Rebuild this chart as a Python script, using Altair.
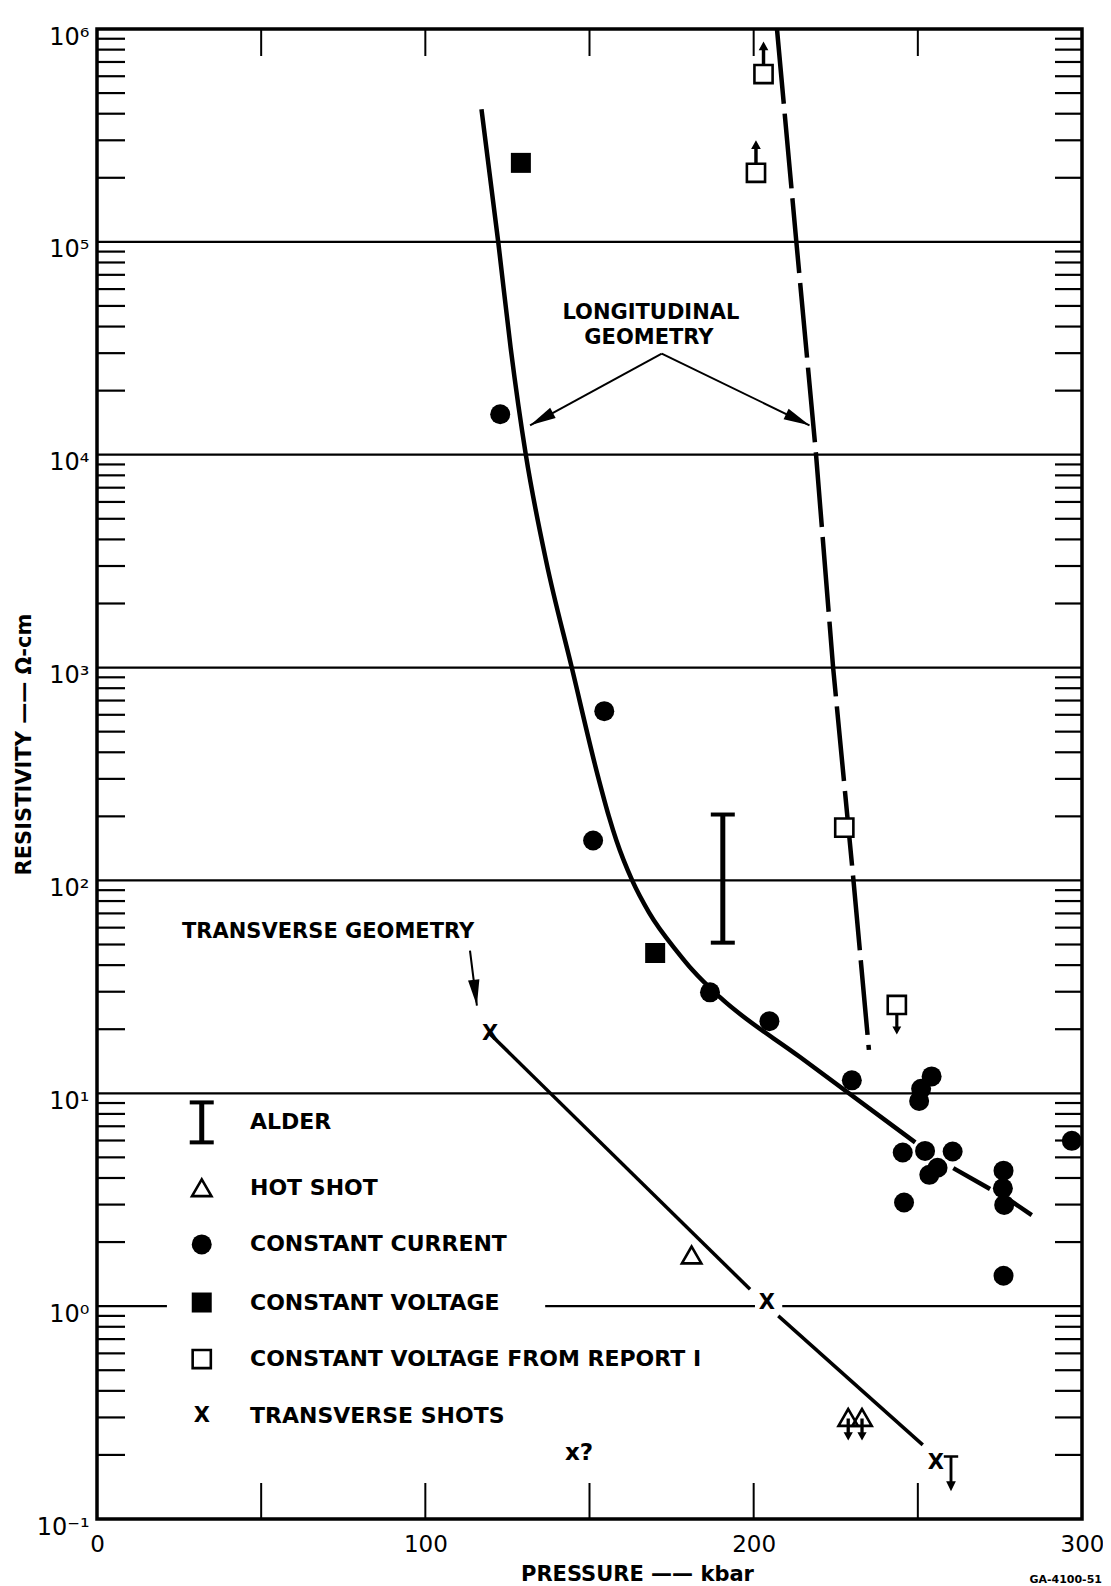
import altair as alt
import pandas as pd

W, H = 985, 1490
FONT = "DejaVu Sans"

# ---------------- data ----------------
# constant current (filled circles)
cc_p = [122.8, 154.5, 151.1, 186.7, 204.8, 229.9, 254.2, 251.0, 250.4, 245.4,
        252.2, 260.6, 256.0, 253.5, 245.8, 276.1, 275.9, 276.3, 276.1, 296.9]
cc_r = [15500, 624, 154, 29.8, 21.8, 11.5, 12.0, 10.5, 9.2, 5.27,
        5.36, 5.33, 4.47, 4.14, 3.07, 4.33, 3.58, 2.99, 1.39, 5.98]
# constant voltage (filled squares)
cv_p = [129.1, 170.0]
cv_r = [235000, 45.6]
# constant voltage from report I (open squares)
cvr_p = [203.0, 200.7, 227.6, 243.6]
cvr_r = [614000, 211000, 177, 26]
cvr_up_p = [203.0, 200.7]
cvr_up_r = [614000, 211000]
cvr_dn_p = [243.6]
cvr_dn_r = [26]
# hot shot (open triangles)
hs_p = [181.1, 228.8, 233.0]
hs_r = [1.74, 0.30, 0.30]
hs_dn_p = [228.8, 233.0]
hs_dn_r = [0.30, 0.30]
# transverse shots
ts_p = [119.7, 204.0, 255.5]
ts_r = [19.0, 1.04, 0.183]
tq_p = [146.8]
tq_r = [0.204]
lim_p = [260.1]
lim_r = [0.183]
# Alder range
alder_p = [190.6]
alder_lo = [51]
alder_hi = [204]

# curves (longitudinal fit is drawn in pieces, broken where the dots sit)
long_p = [117.1, 122.2, 126.0, 130.6, 136.8, 144.6, 152.4, 155.9, 158.2, 163.0, 168.1, 177.0,
          181.5, 189.8, 214.1, 249.2,
          260.8, 272.0, 278.1, 284.7]
long_r = [420000, 100000, 31623, 10000, 3162, 1000, 316, 200, 154, 100, 70.8, 45.7,
          37.7, 28.2, 14.8, 5.88,
          4.45, 3.55, 3.14, 2.68]
long_seg = [0] * 16 + [1, 1, 2, 2]
dash_p = [207.1, 213.0, 219.0, 224.2, 230.4, 235.1]
dash_r = [1e6, 1e5, 1e4, 1e3, 100, 16]
trans_p = [119.7, 198.9, 207.5, 251.5]
trans_r = [19.0, 1.2, 0.90, 0.223]
trans_seg = [0, 0, 1, 1]

# grid lines (decades); the 10^0 line is interrupted by the legend
grid_r = [1e5, 1e4, 1e3, 100, 10, 1, 1, 1]
grid_p0 = [0, 0, 0, 0, 0, 0, 136.5, 208.7]
grid_p1 = [300, 300, 300, 300, 300, 21.3, 200.4, 300]

y_ticks = [0.1, 1, 10, 100, 1000, 10000, 100000, 1000000]
y_minor = [m * 10.0 ** k for k in range(-1, 6) for m in range(2, 10)]
x_ticks = [50, 100, 150, 200, 250]
x_labels = [0, 100, 200, 300]

# annotations
ann_text = ["LONGITUDINAL", "GEOMETRY", "TRANSVERSE GEOMETRY"]
ann_p = [168.7, 168.1, 70.4]
ann_r = [46400, 35200, 57]
arr_p0 = [172.0, 172.0, 113.6]
arr_r0 = [29850, 29850, 46.8]
arr_p1 = [131.9, 217.0, 115.7]
arr_r1 = [13740, 13740, 25.8]
arr_ang = [241.4, 115.9, 173]

# legend
leg_text = ["ALDER", "HOT  SHOT", "CONSTANT CURRENT", "CONSTANT VOLTAGE",
            "CONSTANT VOLTAGE FROM REPORT I", "TRANSVERSE SHOTS"]
leg_r = [7.3, 3.6, 1.95, 1.04, 0.564, 0.305]
leg_sym_p = 31.9
leg_txt_p = 46.6
leg_alder_lo = 5.88
leg_alder_hi = 9.06

# ---------------- helpers ----------------
xs = alt.Scale(domain=[0, 300], nice=False, zero=False)
ys = alt.Scale(type="log", domain=[0.1, 1e6], nice=False)

ylab = ("datum.value >= 5e5 ? '10⁶' : datum.value >= 5e4 ? '10⁵' : "
        "datum.value >= 5e3 ? '10⁴' : datum.value >= 500 ? '10³' : "
        "datum.value >= 50 ? '10²' : datum.value >= 5 ? '10¹' : "
        "datum.value >= 0.5 ? '10⁰' : '10⁻¹'")

XAX = alt.Axis(
    values=x_labels, ticks=False, domain=False, grid=False, labelPadding=14,
    labelFontSize=23, labelFont=FONT, labelColor="black", labelFlush=False,
    title="PRESSURE —— kbar", titleFont=FONT, titleFontSize=21, titleFontWeight="bold",
    titleColor="black", titleX=540, titleY=44, titleBaseline="top", titleAlign="center")
YAX = alt.Axis(
    values=y_ticks, ticks=False, domain=False, grid=False, labelExpr=ylab,
    labelPadding=8, labelFontSize=24, labelFont=FONT, labelColor="black",
    labelOffset=8, labelFlush=False,
    title="RESISTIVITY —— Ω-cm", titleFont=FONT, titleFontSize=21, titleFontWeight="bold",
    titleColor="black", titleX=-73, titleY=715, titleBaseline="middle",
    titleAlign="center", titleAngle=270)


def X(f="p"):
    return alt.X(f"{f}:Q", scale=xs, axis=XAX)


def Y(f="r"):
    return alt.Y(f"{f}:Q", scale=ys, axis=YAX)


def df(p, r, **kw):
    d = {"p": p, "r": r}
    d.update(kw)
    return pd.DataFrame(d)


UP = "M-0.15,1 L0.15,1 L0.15,-0.25 L0.42,-0.25 L0,-1 L-0.42,-0.25 L-0.15,-0.25 Z"
DOWN = "M-0.15,-1 L0.15,-1 L0.15,0.25 L0.42,0.25 L0,1 L-0.42,0.25 L-0.15,0.25 Z"
TDOWN = ("M-0.4,-1 L0.4,-1 L0.4,-0.86 L0.08,-0.86 L0.08,0.45 L0.27,0.45 L0,1 "
         "L-0.27,0.45 L-0.08,0.45 L-0.08,-0.86 L-0.4,-0.86 Z")
HEAD = "M0,0 L-0.22,1 L0.22,1 Z"

grid = alt.Chart(pd.DataFrame({"r": grid_r, "p0": grid_p0, "p1": grid_p1})).mark_rule(
    color="black", strokeWidth=2.2).encode(x=X("p0"), x2="p1:Q", y=Y())

ytl = alt.Chart(pd.DataFrame({"r": y_minor})).mark_rule(color="black", strokeWidth=2.2).encode(
    y=Y(), x=alt.value(0), x2=alt.value(28))
ytr = alt.Chart(pd.DataFrame({"r": y_minor})).mark_rule(color="black", strokeWidth=2.2).encode(
    y=Y(), x=alt.value(W - 27), x2=alt.value(W))
xtb = alt.Chart(pd.DataFrame({"p": x_ticks})).mark_rule(color="black", strokeWidth=2).encode(
    x=X(), y=alt.value(H), y2=alt.value(H - 36))
xtt = alt.Chart(pd.DataFrame({"p": x_ticks})).mark_rule(color="black", strokeWidth=2).encode(
    x=X(), y=alt.value(0), y2=alt.value(27))

long_line = alt.Chart(df(long_p, long_r, s=long_seg)).mark_line(
    color="black", strokeWidth=4.5, interpolate="monotone").encode(x=X(), y=Y(), detail="s:N")
dash_line = alt.Chart(df(dash_p, dash_r)).mark_line(
    color="black", strokeWidth=4.5, strokeDash=[75, 10]).encode(x=X(), y=Y())
trans_line = alt.Chart(df(trans_p, trans_r, s=trans_seg)).mark_line(
    color="black", strokeWidth=3.5).encode(x=X(), y=Y(), detail="s:N")

arr_lines = alt.Chart(pd.DataFrame({"p": arr_p0, "r": arr_r0, "p1": arr_p1, "r1": arr_r1})).mark_rule(
    color="black", strokeWidth=2).encode(x=X(), y=Y(), x2="p1:Q", y2="r1:Q")
arr_heads = alt.Chart(pd.DataFrame({"p": arr_p1, "r": arr_r1, "a": arr_ang})).mark_point(
    shape=HEAD, filled=True, color="black", size=2704, opacity=1).encode(
    x=X(), y=Y(), angle=alt.Angle("a:Q", scale=None))

alder_rule = alt.Chart(pd.DataFrame({"p": alder_p + [leg_sym_p], "lo": alder_lo + [leg_alder_lo],
                                     "hi": alder_hi + [leg_alder_hi]})).mark_rule(
    color="black", strokeWidth=5).encode(x=X(), y=Y("lo"), y2="hi:Q")
alder_caps = alt.Chart(pd.DataFrame({"p": alder_p * 2 + [leg_sym_p] * 2,
                                     "r": alder_lo + alder_hi + [leg_alder_lo, leg_alder_hi]})).mark_tick(
    color="black", orient="horizontal", size=24, thickness=4, opacity=1).encode(x=X(), y=Y())

circles = alt.Chart(df(cc_p + [leg_sym_p], cc_r + [leg_r[2]])).mark_circle(
    color="black", size=400, opacity=1).encode(x=X(), y=Y())
fsq = alt.Chart(df(cv_p + [leg_sym_p], cv_r + [leg_r[3]])).mark_square(
    color="black", size=400, opacity=1, cornerRadius=2).encode(x=X(), y=Y())
up_arr = alt.Chart(df(cvr_up_p, cvr_up_r)).mark_point(
    shape=UP, filled=True, color="black", size=529, opacity=1, yOffset=-21).encode(x=X(), y=Y())
dn_arr = alt.Chart(df(cvr_dn_p, cvr_dn_r)).mark_point(
    shape=DOWN, filled=True, color="black", size=441, opacity=1, yOffset=19).encode(x=X(), y=Y())
hs_arr = alt.Chart(df(hs_dn_p, hs_dn_r)).mark_point(
    shape=DOWN, filled=True, color="black", size=484, opacity=1, yOffset=12).encode(x=X(), y=Y())
lim_arr = alt.Chart(df(lim_p, lim_r)).mark_point(
    shape=TDOWN, filled=True, color="black", size=1296, opacity=1, yOffset=10).encode(x=X(), y=Y())
osq = alt.Chart(df(cvr_p + [leg_sym_p], cvr_r + [leg_r[4]])).mark_point(
    shape="square", fill="white", fillOpacity=1, stroke="black", strokeWidth=2.6,
    size=330, opacity=1).encode(x=X(), y=Y())
tri = alt.Chart(df(hs_p + [leg_sym_p], hs_r + [leg_r[1]])).mark_point(
    shape="triangle-up", filled=False, stroke="black", strokeWidth=2.6,
    size=380, opacity=1).encode(x=X(), y=Y())
xs_marks = alt.Chart(df(ts_p + [leg_sym_p], ts_r + [leg_r[5]], t=["X"] * (len(ts_p) + 1))).mark_text(
    font=FONT, fontSize=21, fontWeight="bold", color="black", baseline="middle", align="center").encode(
    x=X(), y=Y(), text="t:N")
xq = alt.Chart(df(tq_p, tq_r, t=["x?"])).mark_text(
    font=FONT, fontSize=23, fontWeight="bold", color="black", baseline="middle", align="center").encode(
    x=X(), y=Y(), text="t:N")

leg_txt = alt.Chart(df([leg_txt_p] * len(leg_text), leg_r, t=leg_text)).mark_text(
    font=FONT, fontSize=22, fontWeight="bold", color="black", baseline="middle", align="left").encode(
    x=X(), y=Y(), text="t:N")
ann = alt.Chart(df(ann_p, ann_r, t=ann_text)).mark_text(
    font=FONT, fontSize=21, fontWeight="bold", color="black", baseline="middle", align="center").encode(
    x=X(), y=Y(), text="t:N")
tag = alt.Chart(pd.DataFrame({"t": ["GA-4100-51"]})).mark_text(
    font=FONT, fontSize=11, fontWeight="bold", color="black", align="right", baseline="middle").encode(
    x=alt.value(W + 20), y=alt.value(H + 61), text="t:N")

chart = alt.layer(
    grid, ytl, ytr, xtb, xtt,
    long_line, dash_line, trans_line, arr_lines, arr_heads,
    alder_rule, alder_caps, circles, fsq, up_arr, dn_arr, hs_arr, lim_arr,
    osq, tri, xs_marks, xq, leg_txt, ann, tag,
).properties(
    width=W, height=H,
    autosize=alt.AutoSizeParams(type="none"),
    padding={"left": 89, "top": 21, "right": 21, "bottom": 68},
).configure(background="white").configure_view(stroke="black", strokeWidth=3.5)

chart.save("out.html", embed_options={"renderer": "svg", "actions": False})
